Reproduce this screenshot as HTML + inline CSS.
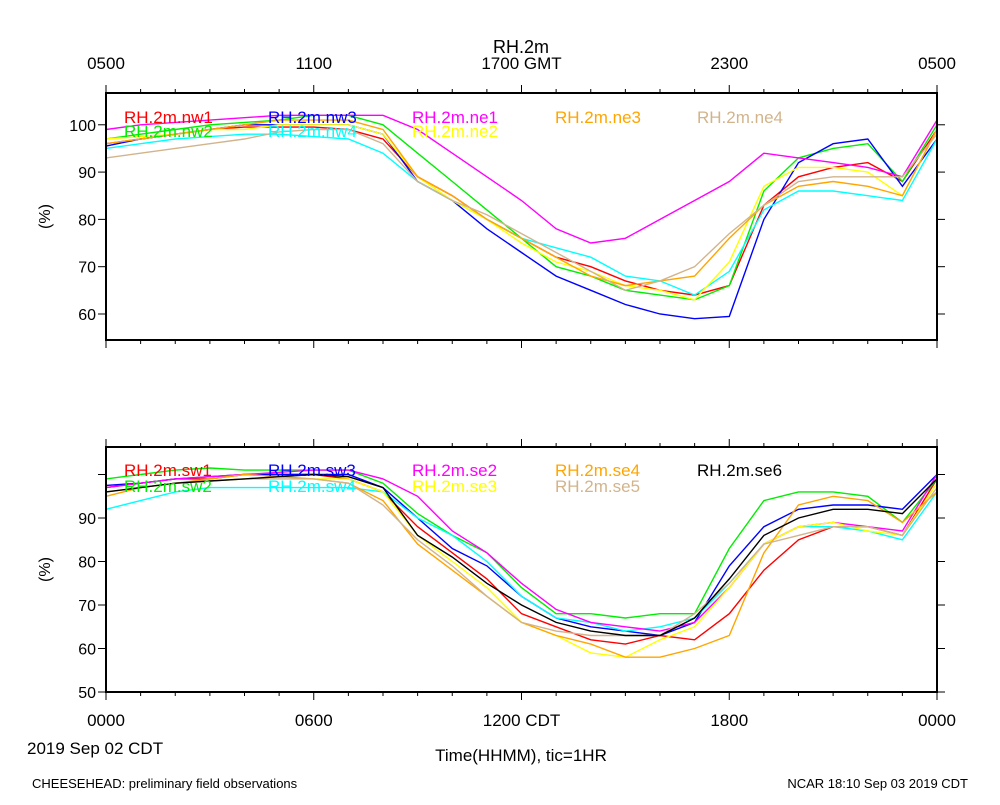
<!DOCTYPE html>
<html><head><meta charset="utf-8"><style>
body{margin:0;background:#fff;}
svg text{font-family:"Liberation Sans",sans-serif;}
</style></head><body>
<svg id="c" width="1000" height="800" xmlns="http://www.w3.org/2000/svg">
<text x="521" y="53" font-size="18" text-anchor="middle">RH.2m</text>
<text x="32" y="788" font-size="13">CHEESEHEAD: preliminary field observations</text>
<text x="968" y="788" font-size="13" text-anchor="end">NCAR 18:10 Sep 03 2019 CDT</text>
<text x="27" y="754" font-size="17">2019 Sep 02 CDT</text>
<text x="521" y="761" font-size="17" text-anchor="middle">Time(HHMM), tic=1HR</text>
</svg>
<script>
const hours=[0,1,2,3,4,5,6,7,8,9,10,11,12,13,14,15,16,17,18,19,20,21,22,23,24];
const topTicksLabels=["0500","1100","1700 GMT","2300","0500"];
const botTicksLabels=["0000","0600","1200 CDT","1800","0000"];
const topYTicks=[60,70,80,90,100];
const botYTicks=[50,60,70,80,90,100];
const botYLabels=[50,60,70,80,90];
const nw1=[96,97,98,99,99.5,99.5,99.5,99,97,89,85,80,76,72,70,67,65,64,66,83,89,91,92,88,99];
const nw2=[97,98,99,100,100.5,101,102,102,100,94,88,82,76,70,68,65,64,63,66,86,93,95,96,88,100];
const nw3=[95.5,97,98,99,100,100,100,100,98,88,84,78,73,68,65,62,60,59,59.5,80,92,96,97,87,97];
const nw4=[95,96,97,97.5,98,98,97.5,97,94,88,84,80,76,74,72,68,67,64,69,82,86,86,85,84,97];
const ne1=[99,100,100.5,101,101.5,102,102,102,102,99,94,89,84,78,75,76,80,84,88,94,93,92,91,89,101];
const ne2=[97,97.5,98,99,99,100,100,100,98,89,84,80,75,71,69,66,65,63,71,87,91,91,90,85,99];
const ne3=[96,97,98,99,100,101,101,101,99,89,85,80,76,72,68,66,67,68,76,83,87,88,87,85,99];
const ne4=[93,94,95,96,97,98.5,99,99,96,88,84,81,77,73,69,65,67,70,77,83,88,89,89,89,98];
const sw1=[97,98,99,99,100,100,100,99,96,88,82,76,68,65,62,61,63,62,68,78,85,88,88,86,99];
const sw2=[99,100,101,101.5,101,101,101,101,98,91,86,82,74,68,68,67,68,68,83,94,96,96,95,89,99];
const sw3=[97.5,98,99,99.5,100,100,100,100,97,90,83,79,72,67,65,64,63,66,79,88,92,93,93,92,100];
const sw4=[92,94,96,97,97,97,97,97,96,90,86,80,72,67,66,64,65,67,75,84,88,88,87,85,96];
const se2=[97,98,99,99.5,100,100.5,101,101,99,95,87,82,75,69,66,65,64,66,74,84,88,89,88,87,100];
const se3=[96,97,98,98.5,99,99.5,99,99,96,86,80,74,66,63,59,58,62,65,74,84,88,89,87,86,98];
const se4=[95,97,98,99,100,99.5,99,98,94,84,78,72,66,63,61,58,58,60,63,82,93,95,94,89,96];
const se5=[96,97,98,98.5,99,99,99,98,93,85,79,72,66,64,63,63,63,68,75,84,86,88,88,86,97];
const se6=[96,97,98,98.5,99,99.5,100,99.5,97,86,81,75,70,66,64,63,63,67,76,86,90,92,92,91,99];

const svg=document.getElementById('c');
const NS="http://www.w3.org/2000/svg";
function mk(t,a){const e=document.createElementNS(NS,t);for(const k in a)e.setAttribute(k,a[k]);svg.appendChild(e);return e;}
const X0=106,X1=937;
const xs=h=>X0+(X1-X0)*h/24;
function panel(p){
  const ys=v=>p.yb-(v-p.vmin)*p.ppu;
  p.series.forEach(s=>{
    const d=hours.map((h,i)=>(i?'L':'M')+xs(h).toFixed(1)+','+ys(s.v[i]).toFixed(1)).join('');
    const e=mk('path',{d:d,fill:'none',stroke:s.c,'stroke-width':1.4});
    
    
  });
  const f=mk('rect',{x:X0,y:p.yt,width:X1-X0,height:p.yb-p.yt,fill:'none',stroke:'#000','stroke-width':2});
  
  
  for(let h=0;h<=24;h++){
    const L=h%6===0?8:4,x=xs(h);
    mk('line',{x1:x,x2:x,y1:p.yt,y2:p.yt-L,stroke:'#000'});
    mk('line',{x1:x,x2:x,y1:p.yb,y2:p.yb+L,stroke:'#000'});
  }
  p.yt2.forEach(v=>{const y=ys(v);
    mk('line',{x1:X0,x2:X0-8,y1:y,y2:y,stroke:'#000'});
    mk('line',{x1:X1,x2:X1+8,y1:y,y2:y,stroke:'#000'});});
  p.ylab.forEach(v=>{const t=mk('text',{x:96,y:ys(v)+6,'font-size':16,'text-anchor':'end'});t.textContent=v;
    
    });
  const yt=mk('text',{x:50,y:(p.yt+p.yb)/2,'font-size':16,'text-anchor':'middle',transform:`rotate(-90 50 ${(p.yt+p.yb)/2})`});
  yt.textContent='(%)';
  
  
  p.series.forEach(s=>{const t=mk('text',{x:s.lx,y:s.ly,'font-size':17,fill:s.c});t.textContent='RH.2m.'+s.n;
    
    });
  p.xlab.forEach((l,i)=>{const t=mk('text',{x:xs(i*6),y:p.xly,'font-size':17,'text-anchor':'middle'});t.textContent=l;
    
    });
}
panel({name:'top-panel',yt:93,yb:340,vmin:54.5,ppu:4.73,yt2:topYTicks,ylab:topYTicks,xlab:topTicksLabels,xly:69,series:[
 {n:'nw1',c:'#ff0000',v:nw1,lx:124,ly:123},{n:'nw2',c:'#00ee00',v:nw2,lx:124,ly:137},
 {n:'nw3',c:'#0000ff',v:nw3,lx:268,ly:123},{n:'nw4',c:'#00ffff',v:nw4,lx:268,ly:137},
 {n:'ne1',c:'#ff00ff',v:ne1,lx:412,ly:123},{n:'ne2',c:'#ffff00',v:ne2,lx:412,ly:137},
 {n:'ne3',c:'#ffa500',v:ne3,lx:555,ly:123},{n:'ne4',c:'#d2b48c',v:ne4,lx:697,ly:123}]});
panel({name:'bottom-panel',yt:447,yb:692,vmin:50,ppu:4.35,yt2:botYTicks,ylab:botYLabels,xlab:botTicksLabels,xly:726,series:[
 {n:'sw1',c:'#ff0000',v:sw1,lx:124,ly:476},{n:'sw2',c:'#00ee00',v:sw2,lx:124,ly:492},
 {n:'sw3',c:'#0000ff',v:sw3,lx:268,ly:476},{n:'sw4',c:'#00ffff',v:sw4,lx:268,ly:492},
 {n:'se2',c:'#ff00ff',v:se2,lx:412,ly:476},{n:'se3',c:'#ffff00',v:se3,lx:412,ly:492},
 {n:'se4',c:'#ffa500',v:se4,lx:555,ly:476},{n:'se5',c:'#d2b48c',v:se5,lx:555,ly:492},
 {n:'se6',c:'#000000',v:se6,lx:697,ly:476}]});
</script>
</body></html>
